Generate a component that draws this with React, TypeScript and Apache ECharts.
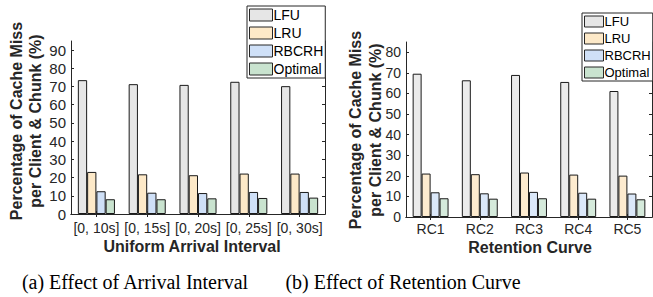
import React, { useEffect, useRef } from "react";
import * as echarts from "echarts";

const seriesNames = ["LFU", "LRU", "RBCRH", "Optimal"];
const arrivalCats = ["[0, 10s]", "[0, 15s]", "[0, 20s]", "[0, 25s]", "[0, 30s]"];
const lfuArrival = [73.5, 71.3, 70.9, 72.6, 70.2];
const lruArrival = [23.1, 21.8, 21.3, 22.2, 22.2];
const rbcrhArrival = [12.5, 11.7, 11.5, 12.1, 12.1];
const optimalArrival = [8.1, 8.1, 8.6, 8.8, 9.0];

const retentionCats = ["RC1", "RC2", "RC3", "RC4", "RC5"];
const lfuRetention = [69.6, 66.4, 69.0, 65.6, 61.2];
const lruRetention = [21.1, 20.8, 21.6, 20.6, 20.1];
const rbcrhRetention = [12.0, 11.5, 12.2, 11.8, 11.4];
const optimalRetention = [9.1, 8.9, 9.1, 8.9, 8.6];

const leftColors = ["#e6e6e6", "#fde9c8", "#cfe0f7", "#c9e3cf"];
const rightColors = ["#ebebeb", "#fdebcf", "#dbe8f9", "#d5eadb"];

const SANS = "'Liberation Sans', Arial, Helvetica, sans-serif";
const SERIF = "'Liberation Serif', 'Times New Roman', serif";
const AX = "#262626";

export default function App() {
  const ref = useRef<HTMLDivElement>(null);
  useEffect(() => {
    if (!ref.current) return;
    const chart = echarts.init(ref.current, null, { renderer: "svg" });
    const leftData = [lfuArrival, lruArrival, rbcrhArrival, optimalArrival];
    const rightData = [lfuRetention, lruRetention, rbcrhRetention, optimalRetention];

    const mkBar = (name: string, data: number[], color: string, idx: number) => ({
      type: "bar",
      name,
      data,
      xAxisIndex: idx,
      yAxisIndex: idx,
      barGap: "0%",
      barCategoryGap: "27%",
      itemStyle: { color, borderColor: "#1a1a1a", borderWidth: 1 },
      emphasis: { disabled: true },
    });

    const catAxis = (data: string[], gridIndex: number, fontSize: number, margin: number, top: boolean) => ({
      type: "category",
      data,
      gridIndex,
      position: top ? "top" : "bottom",
      axisLine: { show: true, lineStyle: { color: AX, width: 1 } },
      axisTick: { show: true, inside: true, alignWithLabel: true, length: 3, lineStyle: { color: AX } },
      axisLabel: {
        show: !top,
        fontFamily: SANS,
        fontSize,
        color: AX,
        margin,
        interval: 0,
      },
      splitLine: { show: false },
    });

    const valAxis = (gridIndex: number, max: number, fontSize: number, margin: number, right: boolean) => ({
      type: "value",
      gridIndex,
      min: 0,
      max,
      interval: 10,
      position: right ? "right" : "left",
      axisLine: { show: true, lineStyle: { color: AX, width: 1 } },
      axisTick: { show: true, inside: true, length: 3, lineStyle: { color: AX } },
      axisLabel: {
        show: !right,
        fontFamily: SANS,
        fontSize,
        color: AX,
        margin,
        showMaxLabel: false,
        formatter: (v: number) => (v % 10 === 0 ? String(v) : ""),
      },
      splitLine: { show: false },
    });

    const legendBase = (left: number, top: number, iw: number, ih: number, fs: number, gap: number) => ({
      data: seriesNames,
      orient: "vertical",
      left,
      top,
      itemWidth: iw,
      itemHeight: ih,
      itemGap: gap,
      padding: [2, 2, 2, 2],
      icon: "rect",
      borderColor: AX,
      borderWidth: 1,
      borderRadius: 0,
      backgroundColor: "#ffffff",
      selectedMode: false,
      itemStyle: { borderColor: AX, borderWidth: 1 },
      textStyle: { fontFamily: SANS, fontSize: fs, color: "#000", padding: [0, 0, 0, -4] },
    });

    const boldText = (x: number, y: number, text: string, rotate: boolean) => ({
      type: "text",
      x,
      y,
      rotation: rotate ? Math.PI / 2 : 0,
      style: {
        text,
        fontFamily: SANS,
        fontWeight: "bold",
        fontSize: 16,
        fill: AX,
        textAlign: "center",
        textVerticalAlign: "middle",
      },
    });

    const caption = (x: number, text: string) => ({
      type: "text",
      x,
      y: 282,
      style: {
        text,
        fontFamily: SERIF,
        fontSize: 20,
        fill: "#000",
        textAlign: "center",
        textVerticalAlign: "middle",
      },
    });

    chart.setOption({
      animation: false,
      grid: [
        { left: 71, top: 41, width: 254, height: 173, containLabel: false },
        { left: 406, top: 42, width: 246, height: 175, containLabel: false },
      ],
      xAxis: [
        catAxis(arrivalCats, 0, 14, 7, false),
        catAxis(arrivalCats, 0, 14, 7, true),
        catAxis(retentionCats, 1, 14, 5, false),
        catAxis(retentionCats, 1, 14, 5, true),
      ],
      yAxis: [
        valAxis(0, 95, 15, 5, false),
        valAxis(0, 95, 15, 5, true),
        valAxis(1, 85, 14, 5, false),
        valAxis(1, 85, 14, 5, true),
      ],
      legend: [
        legendBase(247, 6, 23, 12, 14, 4),
        legendBase(582, 13, 19, 11, 13, 4),
      ],
      series: [
        ...seriesNames.map((n, i) => mkBar(n, leftData[i], leftColors[i], 0)),
        ...seriesNames.map((n, i) => mkBar(n, rightData[i], rightColors[i], 2)),
      ],
      graphic: [
        boldText(16, 121, "Percentage of Cache Miss", true),
        boldText(35, 121, "per Client & Chunk (%)", true),
        boldText(355, 130, "Percentage of Cache Miss", true),
        boldText(375, 130, "per Client & Chunk (%)", true),
        boldText(192, 246, "Uniform Arrival Interval", false),
        boldText(530, 247, "Retention Curve", false),
        caption(135, "(a) Effect of Arrival Interval"),
        caption(403, "(b) Effect of Retention Curve"),
      ],
    });
    return () => chart.dispose();
  }, []);
  return (
    <div
      ref={ref}
      style={{ position: "absolute", left: 0, top: 0, width: 653, height: 297, background: "#fff" }}
    />
  );
}
